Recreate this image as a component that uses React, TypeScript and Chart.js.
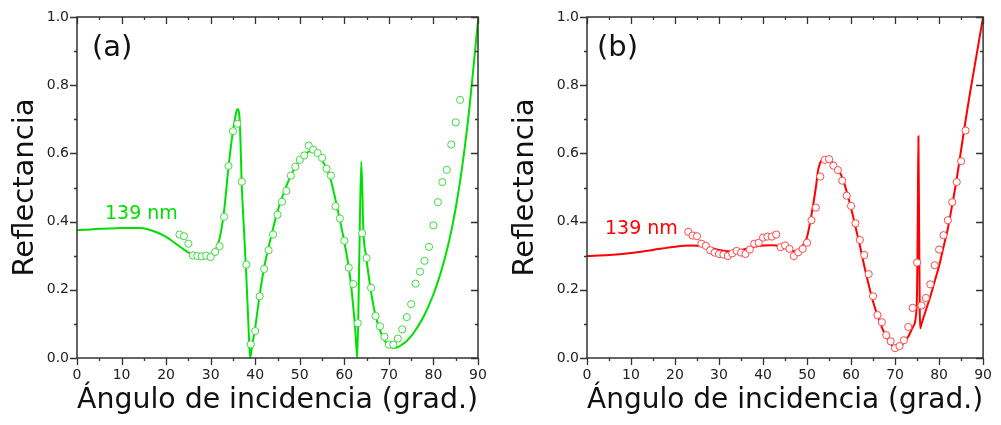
import React, { useEffect, useRef } from 'react';
import { Chart, registerables } from 'chart.js';

Chart.register(...registerables);

const FONT = "'DejaVu Sans', Verdana, sans-serif";

// Axis tick values
const xMajorTicks = [0, 10, 20, 30, 40, 50, 60, 70, 80, 90];
const xMinorTicks = [5, 15, 25, 35, 45, 55, 65, 75, 85];
const yMajorTicks = [0, 0.2, 0.4, 0.6, 0.8, 1.0];
const yMinorTicks = [0.1, 0.3, 0.5, 0.7, 0.9];

// Measured points (circles), angle in degrees
const measuredAngles = [
  23, 24, 25, 26, 27, 28, 29, 30, 31, 32, 33, 34, 35, 36, 37, 38, 39, 40, 41, 42, 43, 44,
  45, 46, 47, 48, 49, 50, 51, 52, 53, 54, 55, 56, 57, 58, 59, 60, 61, 62, 63, 64, 65, 66,
  67, 68, 69, 70, 71, 72, 73, 74, 75, 76, 77, 78, 79, 80, 81, 82, 83, 84, 85, 86,
];
const measuredA = [
  0.362, 0.357, 0.335, 0.301, 0.299, 0.298, 0.3, 0.296, 0.311, 0.328, 0.414, 0.563, 0.665,
  0.687, 0.517, 0.274, 0.04, 0.079, 0.181, 0.261, 0.316, 0.362, 0.42, 0.458, 0.49, 0.535,
  0.561, 0.581, 0.594, 0.623, 0.611, 0.601, 0.587, 0.555, 0.535, 0.445, 0.409, 0.344, 0.265,
  0.217, 0.102, 0.366, 0.293, 0.206, 0.123, 0.093, 0.062, 0.039, 0.039, 0.057, 0.084, 0.12,
  0.158, 0.218, 0.253, 0.285, 0.326, 0.389, 0.457, 0.516, 0.552, 0.626, 0.691, 0.757,
];
const measuredB = [
  0.37, 0.359, 0.357, 0.335, 0.329, 0.316, 0.309, 0.305, 0.303, 0.299, 0.307, 0.314, 0.309,
  0.305, 0.318, 0.335, 0.338, 0.353, 0.356, 0.356, 0.362, 0.325, 0.33, 0.32, 0.299, 0.31,
  0.32, 0.338, 0.404, 0.441, 0.532, 0.581, 0.583, 0.564, 0.551, 0.52, 0.476, 0.446, 0.395,
  0.346, 0.302, 0.246, 0.181, 0.126, 0.105, 0.067, 0.049, 0.029, 0.035, 0.052, 0.091, 0.147,
  0.28, 0.154, 0.176, 0.216, 0.272, 0.318, 0.36, 0.404, 0.457, 0.516, 0.577, 0.667,
];

// Model curves (solid lines)
const modelAnglesA = [
  0, 2, 4, 6, 8, 10, 12, 14, 16, 18, 20, 22, 24, 26, 27, 28, 29, 30, 31, 32, 33, 34, 35,
  35.5, 36, 36.5, 37, 37.5, 38, 38.5, 38.85, 39.3, 40, 41, 42, 43, 44, 45, 46, 47, 48, 49,
  50, 51, 52, 53, 54, 55, 56, 57, 58, 59, 60, 61, 61.5, 62, 62.5, 62.9, 63.35, 63.8, 64.3,
  64.9, 65.8, 66.9, 68, 69, 70, 71, 72, 73, 74, 75, 76, 77, 78, 79, 80, 81, 82, 83, 84, 85,
  86, 87, 88, 89, 90,
];
const modelA = [
  0.375, 0.376, 0.378, 0.379, 0.38, 0.381, 0.381, 0.381, 0.377, 0.368, 0.355, 0.337, 0.318,
  0.302, 0.298, 0.296, 0.297, 0.302, 0.315, 0.35, 0.43, 0.56, 0.665, 0.705, 0.73, 0.7, 0.5,
  0.37, 0.24, 0.09, 0.0, 0.035, 0.09, 0.185, 0.265, 0.325, 0.38, 0.43, 0.47, 0.505, 0.535,
  0.56, 0.58, 0.595, 0.605, 0.607, 0.598, 0.58, 0.555, 0.52, 0.465, 0.405, 0.34, 0.265,
  0.215, 0.15, 0.075, 0.0, 0.29, 0.576, 0.365, 0.297, 0.21, 0.13, 0.081, 0.052, 0.035,
  0.029, 0.032, 0.04, 0.05, 0.064, 0.082, 0.103, 0.127, 0.155, 0.187, 0.224, 0.266, 0.315,
  0.372, 0.44, 0.52, 0.615, 0.725, 0.855, 0.99,
];
const modelAnglesB = [
  0, 5, 10, 15, 20, 22, 24, 26, 28, 30, 32, 33, 34, 36, 38, 40, 42, 43, 44, 45, 46, 47, 48,
  49, 50, 51, 52, 52.5, 53, 53.5, 54, 55, 56, 57, 58, 59, 60, 61, 62, 63, 64, 65, 66, 67,
  68, 69, 70, 71, 72, 73, 74, 74.7, 75.0, 75.15, 75.3, 75.45, 75.6, 75.7, 76, 77, 78, 79,
  80, 81, 82, 83, 84, 85, 86, 87, 88, 89, 90,
];
const modelB = [
  0.299, 0.302, 0.308, 0.317, 0.326, 0.329, 0.33, 0.328, 0.323, 0.317, 0.313, 0.313, 0.315,
  0.32, 0.326, 0.33, 0.331, 0.33, 0.327, 0.322, 0.316, 0.313, 0.316, 0.33, 0.355, 0.42, 0.5,
  0.55, 0.573, 0.582, 0.585, 0.583, 0.57, 0.552, 0.53, 0.488, 0.44, 0.385, 0.33, 0.27, 0.215,
  0.165, 0.125, 0.09, 0.062, 0.042, 0.029, 0.031, 0.045, 0.063, 0.09, 0.12, 0.2, 0.4, 0.65,
  0.4, 0.15, 0.087, 0.1, 0.14, 0.18, 0.225, 0.27, 0.325, 0.38, 0.45, 0.525, 0.61, 0.695,
  0.775, 0.85, 0.925, 1.0,
];

const toPoints = (xs: number[], ys: number[]) => xs.map((x, i) => ({ x, y: ys[i] }));

type PanelProps = {
  left: number;
  width: number;
  yAxisWidth: number;
  padRight: number;
  tag: string;
  tagX: number;
  nmX: number;
  nmY: number;
  lineColor: string;
  pointColor: string;
  modelX: number[];
  modelY: number[];
  measY: number[];
};

function Panel(p: PanelProps) {
  const ref = useRef<HTMLCanvasElement>(null);
  useEffect(() => {
    if (!ref.current) return;
    const framePlugin = {
      id: 'frameTicks',
      afterDraw(chart: any) {
        const { ctx, chartArea } = chart;
        const { left, right, top, bottom } = chartArea;
        const xs = chart.scales.x;
        const ys = chart.scales.y;
        ctx.save();
        ctx.strokeStyle = '#333';
        ctx.lineWidth = 1.5;
        ctx.strokeRect(left, top, right - left, bottom - top);
        ctx.lineWidth = 1.3;
        ctx.beginPath();
        const xt = (vals: number[], len: number) => {
          vals.forEach((v) => {
            const px = Math.round(xs.getPixelForValue(v)) + 0.5;
            ctx.moveTo(px, bottom);
            ctx.lineTo(px, bottom + len);
            ctx.moveTo(px, top);
            ctx.lineTo(px, top + len);
          });
        };
        const yt = (vals: number[], len: number) => {
          vals.forEach((v) => {
            const py = Math.round(ys.getPixelForValue(v)) + 0.5;
            ctx.moveTo(left, py);
            ctx.lineTo(left - len, py);
            ctx.moveTo(right, py);
            ctx.lineTo(right - len, py);
          });
        };
        xt(xMajorTicks, 7);
        xt(xMinorTicks, 3);
        yt(yMajorTicks, 7);
        yt(yMinorTicks, 3);
        ctx.stroke();
        ctx.textBaseline = 'alphabetic';
        ctx.textAlign = 'left';
        ctx.fillStyle = '#111';
        ctx.font = `29px ${FONT}`;
        ctx.fillText(p.tag, p.tagX, 56);
        ctx.fillStyle = p.lineColor;
        ctx.font = `19px ${FONT}`;
        ctx.fillText('139 nm', p.nmX, p.nmY);
        ctx.restore();
      },
    };
    const chart = new Chart(ref.current, {
      type: 'line',
      data: {
        datasets: [
          {
            type: 'scatter',
            data: toPoints(measuredAngles, p.measY),
            pointRadius: 3.6,
            pointBorderWidth: 1,
            pointBorderColor: p.pointColor,
            pointBackgroundColor: '#ffffff',
            showLine: false,
            order: 0,
          } as any,
          {
            type: 'line',
            data: toPoints(p.modelX, p.modelY),
            borderColor: p.lineColor,
            borderWidth: 2,
            pointRadius: 0,
            fill: false,
            cubicInterpolationMode: 'monotone',
            order: 1,
          } as any,
        ],
      },
      options: {
        animation: false,
        responsive: false,
        maintainAspectRatio: false,
        events: [],
        layout: { padding: { left: 0, right: p.padRight, top: 17, bottom: 0 } },
        plugins: { legend: { display: false }, tooltip: { enabled: false } },
        scales: {
          x: {
            type: 'linear',
            min: 0,
            max: 90,
            position: 'bottom',
            afterBuildTicks: (s: any) => {
              s.ticks = xMajorTicks.map((v) => ({ value: v }));
            },
            ticks: {
              color: '#222',
              font: { family: FONT, size: 14 },
              padding: 9,
              maxRotation: 0,
              autoSkip: false,
              callback: (v: any) => String(v),
            },
            grid: { display: false, drawTicks: false },
            border: { display: false },
            title: {
              display: true,
              text: 'Ángulo de incidencia (grad.)',
              color: '#111',
              font: { family: FONT, size: 29 },
              padding: { top: 0, bottom: 7 },
            },
            afterFit: (s: any) => {
              s.height = 67;
            },
          },
          y: {
            type: 'linear',
            min: 0,
            max: 1,
            afterBuildTicks: (s: any) => {
              s.ticks = yMajorTicks.map((v) => ({ value: v }));
            },
            ticks: {
              color: '#222',
              font: { family: FONT, size: 14 },
              padding: 8,
              callback: (v: any) => Number(v).toFixed(1),
            },
            grid: { display: false, drawTicks: false },
            border: { display: false },
            title: {
              display: true,
              text: 'Reflectancia',
              color: '#111',
              font: { family: FONT, size: 29 },
              padding: { top: 8, bottom: 0 },
            },
            afterFit: (s: any) => {
              s.width = p.yAxisWidth;
            },
          },
        },
      } as any,
      plugins: [framePlugin],
    });
    return () => chart.destroy();
  }, []);
  return (
    <canvas
      ref={ref}
      width={p.width}
      height={425}
      style={{ position: 'absolute', left: p.left, top: 0, width: p.width, height: 425 }}
    />
  );
}

export default function App() {
  return (
    <div style={{ position: 'absolute', left: 0, top: 0, width: 1001, height: 425, background: '#fff' }}>
      <Panel
        left={0}
        width={500}
        yAxisWidth={77}
        padRight={22}
        tag="(a)"
        tagX={92}
        nmX={105}
        nmY={219}
        lineColor="#00e000"
        pointColor="#3ddc3d"
        modelX={modelAnglesA}
        modelY={modelA}
        measY={measuredA}
      />
      <Panel
        left={500}
        width={501}
        yAxisWidth={87}
        padRight={12}
        tag="(b)"
        tagX={97}
        nmX={105}
        nmY={234}
        lineColor="#ff0000"
        pointColor="#ff4848"
        modelX={modelAnglesB}
        modelY={modelB}
        measY={measuredB}
      />
    </div>
  );
}
